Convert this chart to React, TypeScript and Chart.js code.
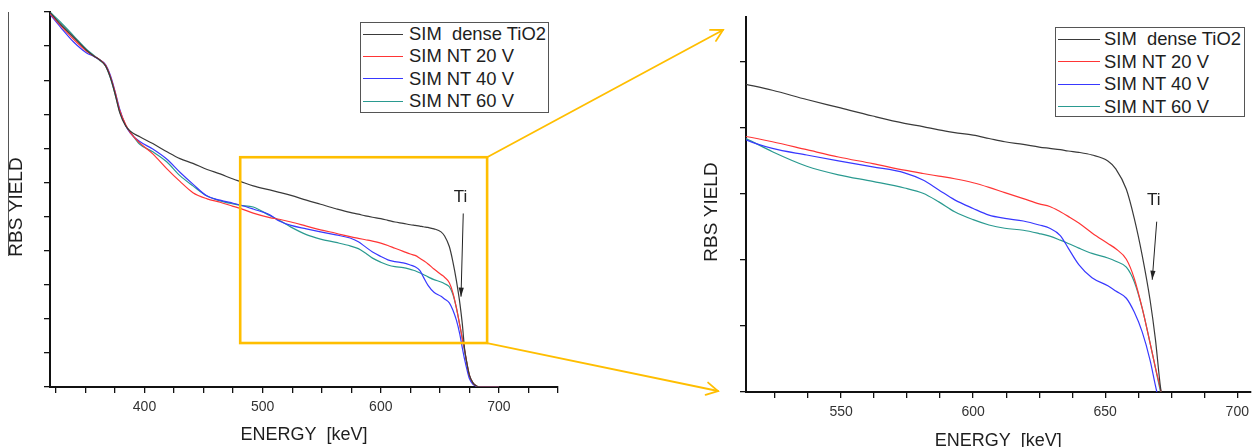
import React, { useEffect, useRef } from 'react';
import { Chart, registerables } from 'chart.js';

Chart.register(...registerables);

const FONT = '"Liberation Sans", Arial, Helvetica, sans-serif';
Chart.defaults.font.family = FONT;

// ---------- data ----------
const energy = [
  320, 329, 340, 351, 357, 362, 367, 371, 375, 379,
  384, 388, 396, 407, 419, 430, 441, 453, 464, 475,
  481, 492, 506, 514, 524, 537, 549, 562, 574, 581,
  587, 593, 600, 606, 612, 619, 625, 629, 633, 636,
  640, 645, 651, 654, 658, 661, 664, 667, 669, 671,
  673, 675, 678, 681, 684, 690, 700,
];

const simDenseTiO2 = [
  1099, 1064, 1026, 988, 971, 960, 942, 909, 861, 805,
  766, 750, 734, 714, 690, 670, 656, 638, 625, 610,
  603, 590, 578, 571, 562, 548, 536, 523, 512, 507,
  502, 498, 494, 489, 484, 480, 476, 474, 472, 470,
  468, 464, 455, 443, 412, 368, 312, 244, 185, 110,
  68, 35, 12, 3, 0, 0, 0,
];

const simNT20 = [
  1095, 1060, 1020, 985, 971, 960, 944, 912, 866, 812,
  770, 746, 716, 684, 640, 603, 570, 552, 542, 530,
  524, 510, 497, 492, 484, 472, 461, 451, 441, 436,
  432, 428, 422, 415, 407, 398, 390, 386, 378, 371,
  361, 346, 330, 322, 306, 277, 232, 179, 142, 108,
  68, 35, 12, 3, 0, 0, 0,
];

const simNT40 = [
  1093, 1055, 1012, 980, 970, 960, 946, 915, 868, 815,
  768, 745, 720, 698, 668, 630, 595, 560, 548, 539,
  534, 522, 505, 487, 474, 464, 455, 446, 437, 426,
  411, 396, 383, 373, 368, 364, 358, 353, 342, 323,
  298, 278, 266, 258, 247, 226, 196, 153, 115, 80,
  50, 25, 8, 2, 0, 0, 0,
];

const simNT60 = [
  1100, 1070, 1030, 990, 973, 958, 942, 908, 860, 808,
  768, 748, 712, 690, 660, 620, 590, 560, 546, 537,
  533, 528, 503, 489, 469, 447, 434, 424, 414, 406,
  393, 378, 366, 358, 353, 350, 345, 341, 335, 330,
  323, 315, 308, 303, 294, 272, 232, 179, 142, 104,
  66, 34, 12, 3, 0, 0, 0,
];

const seriesLabels = ['SIM  dense TiO2', 'SIM NT 20 V', 'SIM NT 40 V', 'SIM NT 60 V'];
const seriesColors = ['#3a3a3a', '#ff3535', '#3838ff', '#2a9a90'];
const seriesValues = [simDenseTiO2, simNT20, simNT40, simNT60];

const mainEnergyLabels = [400, 500, 600, 700];
const zoomEnergyLabels = [550, 600, 650, 700];

const X_TITLE = 'ENERGY  [keV]';
const Y_TITLE = 'RBS YIELD';
const PEAK_LABEL = 'Ti';

// ---------- panel specs ----------
type Spec = {
  xMin: number; xMax: number; xTickStart: number; xTickStep: number; xLabels: number[];
  yMin: number; yMax: number; yTickStep: number;
  padTop: number; padRight: number; yAxisWidth: number; xAxisHeight: number;
  xTitleDy: number; yTitleDx: number; yTitleDy: number;
  ti: { tx: number; ty: number; fx: number; fy: number; px: number; py: number };
  zoomBox?: { x0: number; x1: number; y0: number; y1: number };
};

const mainSpec: Spec = {
  xMin: 320, xMax: 750, xTickStart: 325, xTickStep: 25, xLabels: mainEnergyLabels,
  yMin: 0, yMax: 1100, yTickStep: 100,
  padTop: 12, padRight: 12, yAxisWidth: 50, xAxisHeight: 60,
  xTitleDy: 48, yTitleDx: 33, yTitleDy: 7.5,
  ti: { tx: 667.5, ty: 556, fx: 669.8, fy: 509, px: 667.9, py: 265 },
  zoomBox: { x0: 481, x1: 690, y0: 129, y1: 674 },
};

const zoomSpec: Spec = {
  xMin: 514, xMax: 705, xTickStart: 525, xTickStep: 12.5, xLabels: zoomEnergyLabels,
  yMin: 105, yMax: 673, yTickStep: 100,
  padTop: 17, padRight: 2, yAxisWidth: 56, xAxisHeight: 55,
  xTitleDy: 49, yTitleDx: 34, yTitleDy: 7.5,
  ti: { tx: 668.4, ty: 395, fx: 669.5, fy: 363, px: 667.8, py: 275 },
};

function stepTicks(start: number, end: number, step: number) {
  const out: { value: number }[] = [];
  for (let v = start; v <= end + 1e-6; v += step) out.push({ value: v });
  return out;
}

function decorPlugin(spec: Spec) {
  return {
    id: 'decor',
    afterDraw(chart: any) {
      const { ctx, chartArea, scales } = chart;
      const x = scales.x;
      const y = scales.y;
      ctx.save();
      ctx.fillStyle = '#1e1e1e';
      ctx.textAlign = 'center';
      ctx.textBaseline = 'middle';
      ctx.font = `18px ${FONT}`;
      ctx.fillText(X_TITLE, (chartArea.left + chartArea.right) / 2, chartArea.bottom + spec.xTitleDy);
      ctx.save();
      ctx.translate(chartArea.left - spec.yTitleDx, (chartArea.top + chartArea.bottom) / 2 + spec.yTitleDy);
      ctx.rotate(-Math.PI / 2);
      ctx.font = `19px ${FONT}`;
      ctx.fillText(Y_TITLE, 0, 0);
      ctx.restore();

      // Ti annotation
      ctx.font = `17px ${FONT}`;
      ctx.fillStyle = '#222';
      ctx.fillText(PEAK_LABEL, x.getPixelForValue(spec.ti.tx), y.getPixelForValue(spec.ti.ty));
      const fx = x.getPixelForValue(spec.ti.fx);
      const fy = y.getPixelForValue(spec.ti.fy);
      const px = x.getPixelForValue(spec.ti.px);
      const py = y.getPixelForValue(spec.ti.py);
      ctx.strokeStyle = '#222';
      ctx.lineWidth = 1;
      ctx.beginPath();
      ctx.moveTo(fx, fy);
      ctx.lineTo(px, py);
      ctx.stroke();
      const ang = Math.atan2(py - fy, px - fx);
      const L = 9, W = 2.6;
      ctx.beginPath();
      ctx.moveTo(px, py);
      ctx.lineTo(px - L * Math.cos(ang) + W * Math.sin(ang), py - L * Math.sin(ang) - W * Math.cos(ang));
      ctx.lineTo(px - L * Math.cos(ang) - W * Math.sin(ang), py - L * Math.sin(ang) + W * Math.cos(ang));
      ctx.closePath();
      ctx.fill();

      if (spec.zoomBox) {
        const b = spec.zoomBox;
        const x0 = x.getPixelForValue(b.x0);
        const x1 = x.getPixelForValue(b.x1);
        const y0 = y.getPixelForValue(b.y1);
        const y1 = y.getPixelForValue(b.y0);
        ctx.strokeStyle = '#FFBE00';
        ctx.lineWidth = 2.6;
        ctx.strokeRect(x0, y0, x1 - x0, y1 - y0);
      }
      ctx.restore();
    },
  };
}

function makeConfig(spec: Spec): any {
  return {
    type: 'line',
    data: {
      datasets: seriesValues.map((vals, i) => ({
        label: seriesLabels[i],
        data: energy.map((e, j) => ({ x: e, y: vals[j] })),
        borderColor: seriesColors[i],
        backgroundColor: seriesColors[i],
        borderWidth: 1.2,
        pointRadius: 0,
        cubicInterpolationMode: 'monotone',
        fill: false,
      })),
    },
    options: {
      animation: false,
      responsive: false,
      events: [],
      layout: { padding: { top: spec.padTop, right: spec.padRight, left: 0, bottom: 0 } },
      plugins: { legend: { display: false }, tooltip: { enabled: false } },
      scales: {
        x: {
          type: 'linear',
          min: spec.xMin,
          max: spec.xMax,
          afterBuildTicks: (s: any) => { s.ticks = stepTicks(spec.xTickStart, spec.xMax, spec.xTickStep); },
          afterFit: (s: any) => { s.height = spec.xAxisHeight; },
          ticks: {
            autoSkip: false,
            maxRotation: 0,
            padding: 6,
            color: '#333',
            font: { size: 14, family: FONT },
            callback: (v: number) => (spec.xLabels.some((l) => Math.abs(l - v) < 1e-6) ? String(v) : ''),
          },
          grid: { drawOnChartArea: false, drawTicks: true, tickLength: 6, color: '#111', lineWidth: 1.3 },
          border: { display: true, color: '#111', width: 2 },
        },
        y: {
          type: 'linear',
          min: spec.yMin,
          max: spec.yMax,
          afterBuildTicks: (s: any) => { s.ticks = stepTicks(spec.yMin, spec.yMax, spec.yTickStep); },
          afterFit: (s: any) => { s.width = spec.yAxisWidth; },
          ticks: { display: false },
          grid: { drawOnChartArea: false, drawTicks: true, tickLength: 6, color: '#111', lineWidth: 1.3 },
          border: { display: true, color: '#111', width: 2 },
        },
      },
    },
    plugins: [decorPlugin(spec)],
  };
}

function drawOpenArrow(ctx: CanvasRenderingContext2D, x0: number, y0: number, x1: number, y1: number) {
  ctx.beginPath();
  ctx.moveTo(x0, y0);
  ctx.lineTo(x1, y1);
  ctx.stroke();
  const ang = Math.atan2(y1 - y0, x1 - x0);
  const L = 13;
  const spread = 0.5;
  ctx.beginPath();
  ctx.moveTo(x1 - L * Math.cos(ang - spread), y1 - L * Math.sin(ang - spread));
  ctx.lineTo(x1, y1);
  ctx.lineTo(x1 - L * Math.cos(ang + spread), y1 - L * Math.sin(ang + spread));
  ctx.stroke();
}

const LEFT_W = 570;
const RIGHT_X = 690;
const RIGHT_W = 565;
const H = 447;

function Legend({ left, top, width, height, row, lineW, gap }: any) {
  return (
    <div
      style={{
        position: 'absolute', left, top, width, height, boxSizing: 'border-box',
        border: '1px solid #555', background: '#fff', fontFamily: FONT, fontSize: 18.4,
        color: '#1e1e1e', zIndex: 3,
      }}
    >
      {seriesLabels.map((l, i) => (
        <div key={l} style={{ height: row, lineHeight: `${row}px`, display: 'flex', alignItems: 'center' }}>
          <span style={{ display: 'inline-block', width: lineW, height: 0, borderTop: `1.3px solid ${seriesColors[i]}`, marginLeft: 2, marginRight: gap }} />
          <span style={{ whiteSpace: 'pre' }}>{l}</span>
        </div>
      ))}
    </div>
  );
}

export default function App() {
  const leftRef = useRef<HTMLCanvasElement>(null);
  const rightRef = useRef<HTMLCanvasElement>(null);
  const overlayRef = useRef<HTMLCanvasElement>(null);

  useEffect(() => {
    const left = new Chart(leftRef.current as HTMLCanvasElement, makeConfig(mainSpec));
    const right = new Chart(rightRef.current as HTMLCanvasElement, makeConfig(zoomSpec));

    const ov = overlayRef.current as HTMLCanvasElement;
    const ctx = ov.getContext('2d') as CanvasRenderingContext2D;
    ctx.clearRect(0, 0, ov.width, ov.height);
    const box = mainSpec.zoomBox!;
    const bx = left.scales.x.getPixelForValue(box.x1);
    const byTop = left.scales.y.getPixelForValue(box.y1);
    const byBot = left.scales.y.getPixelForValue(box.y0);
    const ra = right.chartArea;
    ctx.strokeStyle = '#FFBE00';
    ctx.lineWidth = 1.8;
    ctx.lineCap = 'round';
    drawOpenArrow(ctx, bx, byTop, RIGHT_X + ra.left - 23, ra.top + 13);
    drawOpenArrow(ctx, bx, byBot, RIGHT_X + ra.left - 28, ra.bottom - 1);

    // thin vertical rule at the far left of the original figure
    ctx.strokeStyle = '#555';
    ctx.lineWidth = 1;
    ctx.lineCap = 'butt';
    ctx.beginPath();
    ctx.moveTo(8.5, left.chartArea.top);
    ctx.lineTo(8.5, 256);
    ctx.stroke();

    return () => {
      left.destroy();
      right.destroy();
    };
  }, []);

  return (
    <div style={{ position: 'absolute', left: 0, top: 0, width: 1255, height: H, background: '#fff', overflow: 'hidden' }}>
      <canvas ref={leftRef} width={LEFT_W} height={H} style={{ position: 'absolute', left: 0, top: 0, width: LEFT_W, height: H, zIndex: 1 }} />
      <canvas ref={rightRef} width={RIGHT_W} height={H} style={{ position: 'absolute', left: RIGHT_X, top: 0, width: RIGHT_W, height: H, zIndex: 1 }} />
      <canvas ref={overlayRef} width={1255} height={H} style={{ position: 'absolute', left: 0, top: 0, width: 1255, height: H, zIndex: 2, pointerEvents: 'none' }} />
      <Legend left={360} top={22} width={189} height={91} row={22.3} lineW={40} gap={6} />
      <Legend left={1055} top={27} width={190} height={90} row={22.5} lineW={42} gap={4} />
    </div>
  );
}
